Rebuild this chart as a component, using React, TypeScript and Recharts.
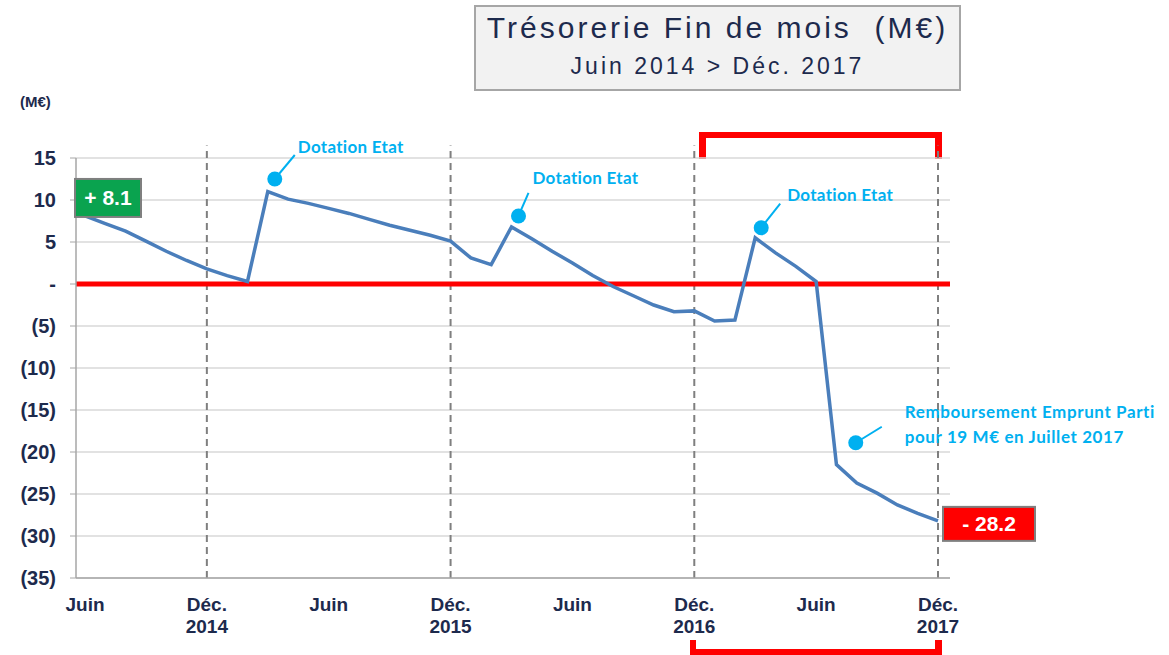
import React from 'react';
import { LineChart, Line, XAxis, YAxis, CartesianGrid, ReferenceLine, ReferenceDot, LabelList } from 'recharts';

const moisCourts = ['Janv.', 'Févr.', 'Mars', 'Avr.', 'Mai', 'Juin', 'Juil.', 'Août', 'Sept.', 'Oct.', 'Nov.', 'Déc.'];

// fins de mois, de Juin 2014 à Déc. 2017
const mois: string[] = [];
for (let i = 0; i < 43; i++) {
  mois.push(`${moisCourts[(5 + i) % 12]} ${2014 + Math.floor((5 + i) / 12)}`);
}

// trésorerie fin de mois (M€)
const tresorerie = [
  8.1, 7.2, 6.3, 5.1, 3.9, 2.8, 1.8, 1.0, 0.3, 11.0, 10.1, 9.6, 9.0,
  8.4, 7.7, 7.0, 6.4, 5.8, 5.1, 3.1, 2.3, 6.8, 5.4, 3.9, 2.5, 1.0,
  -0.3, -1.4, -2.5, -3.3, -3.2, -4.4, -4.3, 5.5, 3.7, 2.1, 0.3,
  -21.5, -23.7, -24.9, -26.3, -27.3, -28.2,
];

const ticksX = ['Juin 2014', 'Déc. 2014', 'Juin 2015', 'Déc. 2015', 'Juin 2016', 'Déc. 2016', 'Juin 2017', 'Déc. 2017'];
const decembres = ['Déc. 2014', 'Déc. 2015', 'Déc. 2016', 'Déc. 2017'];
const ticksY = [15, 10, 5, 0, -5, -10, -15, -20, -25, -30, -35];

const notesMois = ['Mars 2015', 'Mars 2016', 'Mars 2017', 'Août 2017'];
const notesValeurs = [12.5, 8.1, 6.7, -18.9];
const notesTextes = [
  ['Dotation Etat'],
  ['Dotation Etat'],
  ['Dotation Etat'],
  ['Remboursement Emprunt Parti', 'pour 19 M€ en Juillet 2017'],
];

const data = mois.map((m, i) => ({ mois: m, valeur: tresorerie[i] }));

const NAVY = '#1D2A4D';
const CYAN = '#00B0F0';

// décalages des bulles d'annotation (point, bout du trait, texte)
const bulles = [
  { dx: 7, lx: 20, ly: -24, tx: 23, ty: -26, ls: 0.3 },
  { dx: 7, lx: 10, ly: -23, tx: 14, ty: -32, ls: 0.3 },
  { dx: 6, lx: 19, ly: -24, tx: 26, ty: -27, ls: 0.3 },
  { dx: -1, lx: 26, ly: -16, tx: 49, ty: -25, ls: 0.6 },
];

const fmtY = (v: number) => (v === 0 ? '-' : v < 0 ? `(${-v})` : `${v}`);

const TickX = (props: any) => {
  const { x, y, payload } = props;
  const [m, an] = String(payload.value).split(' ');
  const style = { fontFamily: 'Liberation Sans, Arial, sans-serif', fontWeight: 700, fontSize: 19, fill: NAVY };
  return (
    <g>
      <text x={x} y={y + 33} textAnchor="middle" style={style}>{m}</text>
      {m === 'Déc.' && <text x={x} y={y + 55} textAnchor="middle" style={style}>{an}</text>}
    </g>
  );
};

const BoiteValeur = (props: any) => {
  const { x, y, value, index } = props;
  const last = tresorerie.length - 1;
  if (index !== 0 && index !== last) return null;
  const txt = value > 0 ? `+ ${value.toFixed(1)}` : `- ${Math.abs(value).toFixed(1)}`;
  const bx = index === 0 ? x - 10 : x + 5;
  const by = index === 0 ? y - 37 : y - 14;
  const w = index === 0 ? 66 : 92;
  const h = index === 0 ? 38 : 34;
  return (
    <g>
      <rect x={bx} y={by} width={w} height={h} fill={index === 0 ? '#0AA34F' : '#FF0000'} stroke="#7F7F7F" strokeWidth={2} />
      <text x={bx + w / 2} y={by + h / 2 + 7} textAnchor="middle" fill="#fff"
        style={{ fontFamily: 'Liberation Sans, Arial, sans-serif', fontWeight: 700, fontSize: 21 }}>{txt}</text>
    </g>
  );
};

const App: React.FC = () => {
  return (
    <div style={{ position: 'fixed', left: 0, top: 0, width: 1169, height: 655, background: '#fff' }}>
      {/* cartouche titre */}
      <div style={{
        position: 'absolute', left: 474, top: 5, width: 483, height: 82, background: '#F2F2F2',
        border: '2px solid #A6A6A6', color: NAVY, fontFamily: 'Liberation Sans, Arial, sans-serif', textAlign: 'center',
      }}>
        <div style={{ fontSize: 30, letterSpacing: 3, marginTop: 4, whiteSpace: 'pre' }}>Trésorerie Fin de mois  (M€)</div>
        <div style={{ fontSize: 23, letterSpacing: 3, marginTop: 8 }}>Juin 2014 &gt; Déc. 2017</div>
      </div>
      <div style={{
        position: 'absolute', left: 20, top: 93, fontFamily: 'Liberation Sans, Arial, sans-serif',
        fontWeight: 700, fontSize: 15, color: NAVY,
      }}>(M€)</div>

      {/* crochets rouges sur 2017 */}
      <div style={{ position: 'absolute', left: 699, top: 132, width: 243, height: 6, background: '#FF0000' }} />
      <div style={{ position: 'absolute', left: 699, top: 132, width: 7, height: 27, background: '#FF0000' }} />
      <div style={{ position: 'absolute', left: 935, top: 132, width: 7, height: 27, background: '#FF0000' }} />
      <div style={{ position: 'absolute', left: 690, top: 649, width: 252, height: 6, background: '#FF0000' }} />
      <div style={{ position: 'absolute', left: 690, top: 640, width: 6, height: 15, background: '#FF0000' }} />
      <div style={{ position: 'absolute', left: 935, top: 640, width: 7, height: 15, background: '#FF0000' }} />

      <div style={{ position: 'absolute', left: 0, top: 0 }}>
        <LineChart width={1169} height={655} data={data} margin={{ top: 158, right: 219, bottom: 17, left: 16 }}>
          <CartesianGrid vertical={false} stroke="#D9D9D9" strokeWidth={1.5} />
          <XAxis
            dataKey="mois"
            ticks={ticksX}
            interval={0}
            tick={<TickX />}
            tickLine={false}
            tickSize={0}
            tickMargin={0}
            height={60}
            padding={{ left: 9, right: 12 }}
            axisLine={{ stroke: '#A6A6A6', strokeWidth: 1.5 }}
          />
          <YAxis
            domain={[-35, 15]}
            ticks={ticksY}
            interval={0}
            width={60}
            tickFormatter={fmtY}
            tickSize={6}
            tickMargin={14}
            tickLine={{ stroke: '#A6A6A6' }}
            axisLine={{ stroke: '#A6A6A6', strokeWidth: 1.5 }}
            tick={{ fill: NAVY, fontSize: 20, fontWeight: 700, fontFamily: 'Liberation Sans, Arial, sans-serif' }}
          />
          {decembres.map((d) => (
            <ReferenceLine
              key={d}
              ifOverflow="visible"
              segment={[{ x: d, y: -35 }, { x: d, y: 16.5 }]}
              stroke="#7F7F7F"
              strokeWidth={2}
              strokeDasharray="7 5"
            />
          ))}
          <ReferenceLine y={0} stroke="#FF0000" strokeWidth={5} />
          <Line
            type="linear"
            dataKey="valeur"
            stroke="#4A7EBB"
            strokeWidth={3.5}
            dot={false}
            isAnimationActive={false}
          >
            <LabelList dataKey="valeur" content={<BoiteValeur />} />
          </Line>
          {notesMois.map((m, i) => (
            <ReferenceDot
              key={m}
              x={m}
              y={notesValeurs[i]}
              ifOverflow="visible"
              shape={(p: any) => {
                const b = bulles[i];
                const cx = p.cx + b.dx;
                const cy = p.cy;
                return (
                  <g>
                    <line x1={cx} y1={cy} x2={cx + b.lx} y2={cy + b.ly} stroke={CYAN} strokeWidth={2} />
                    <circle cx={cx} cy={cy} r={7.5} fill={CYAN} />
                    {notesTextes[i].map((t, k) => (
                      <text key={k} x={cx + b.tx} y={cy + b.ty + k * 25} fill={CYAN}
                        style={{ fontFamily: 'Lato, sans-serif', fontWeight: 700, fontSize: 17, letterSpacing: b.ls }}>{t}</text>
                    ))}
                  </g>
                );
              }}
            />
          ))}
        </LineChart>
      </div>
    </div>
  );
};

export default App;
